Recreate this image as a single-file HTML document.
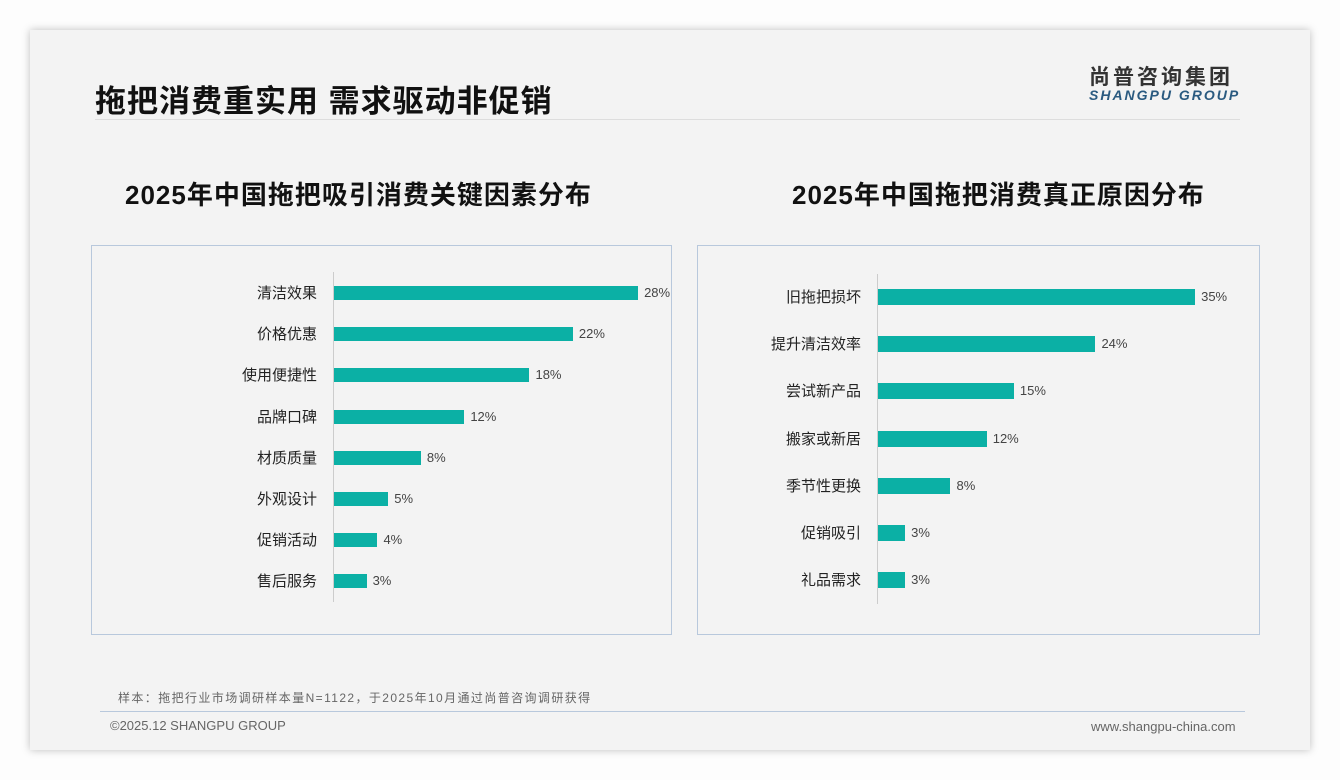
<!DOCTYPE html>
<html><head><meta charset="utf-8"><style>
body{margin:0;width:1340px;height:780px;background:#fdfdfd;position:relative;overflow:hidden;font-family:"Liberation Sans","Noto Sans CJK SC",sans-serif}
.slide{position:absolute;left:30px;top:30px;width:1280px;height:720px;background:#f3f3f3;box-shadow:0 0 8px rgba(0,0,0,.25)}
.a{position:absolute;white-space:nowrap}
.box{position:absolute;border:1px solid #b8c8dc;top:245px;height:388px}
.bar{position:absolute;background:#0bb0a5}
.lab{position:absolute;font-size:15px;color:#222;text-align:right;width:200px}
.val{position:absolute;font-size:13px;color:#444}
.axis{position:absolute;width:1px;background:#ccc}
</style></head><body>
<div class="slide"></div>
<div class="a" style="left:95px;top:76px;font-size:31px;font-weight:bold;color:#111;letter-spacing:1px">拖把消费重实用 需求驱动非促销</div>
<div style="position:absolute;left:95px;top:119px;width:1145px;height:1px;background:#ddd"></div>
<div class="a" style="left:1089px;top:61px;font-size:21px;font-weight:bold;color:#333;letter-spacing:3px">尚普咨询集团</div>
<div class="a" style="left:1089px;top:87px;font-size:14px;font-weight:bold;font-style:italic;color:#2a5a80;letter-spacing:2px">SHANGPU GROUP</div>
<div class="a" style="left:125px;top:175px;font-size:26px;font-weight:bold;color:#111;letter-spacing:1px">2025年中国拖把吸引消费关键因素分布</div>
<div class="a" style="left:792px;top:175px;font-size:26px;font-weight:bold;color:#111;letter-spacing:1px">2025年中国拖把消费真正原因分布</div>
<div class="box" style="left:91px;width:579px"></div>
<div class="box" style="left:697px;width:561px"></div>
<div class="axis" style="left:333px;top:272px;height:330px"></div>
<div class="axis" style="left:877px;top:274px;height:330px"></div>
<div id="c"></div>
<div class="a" style="left:118px;top:689px;font-size:12px;color:#666;letter-spacing:1.4px">样本：拖把行业市场调研样本量N=1122，于2025年10月通过尚普咨询调研获得</div>
<div style="position:absolute;left:100px;top:711px;width:1145px;height:1px;background:#b8c8dc"></div>
<div class="a" style="left:110px;top:718px;font-size:13px;color:#666">©2025.12 SHANGPU GROUP</div>
<div class="a" style="left:1091px;top:719px;font-size:13px;color:#666">www.shangpu-china.com</div>
<script>
var L=[["清洁效果",28],["价格优惠",22],["使用便捷性",18],["品牌口碑",12],["材质质量",8],["外观设计",5],["促销活动",4],["售后服务",3]];
var R=[["旧拖把损坏",35],["提升清洁效率",24],["尝试新产品",15],["搬家或新居",12],["季节性更换",8],["促销吸引",3],["礼品需求",3]];
var h="";
L.forEach(function(d,i){var y=293+i*41.2,w=d[1]*10.86;
h+='<div class="lab" style="left:117px;top:'+(y-11)+'px">'+d[0]+'</div><div class="bar" style="left:334px;top:'+(y-7)+'px;width:'+w+'px;height:14px"></div><div class="val" style="left:'+(340+w)+'px;top:'+(y-8)+'px">'+d[1]+'%</div>';});
R.forEach(function(d,i){var y=297+i*47.2,w=d[1]*9.06;
h+='<div class="lab" style="left:661px;top:'+(y-11)+'px">'+d[0]+'</div><div class="bar" style="left:878px;top:'+(y-8)+'px;width:'+w+'px;height:16px"></div><div class="val" style="left:'+(884+w)+'px;top:'+(y-8)+'px">'+d[1]+'%</div>';});
document.getElementById("c").innerHTML=h;
</script>
</body></html>
